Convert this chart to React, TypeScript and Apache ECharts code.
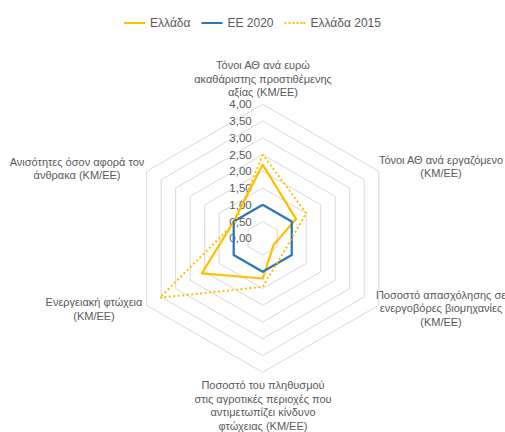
import React, { useEffect, useRef } from "react";
import * as echarts from "echarts";

// Indicators in the reference's clockwise order, starting at the top
const categories = [
  "Τόνοι ΑΘ ανά ευρώ\nακαθάριστης προστιθέμενης\nαξίας (ΚΜ/ΕΕ)",
  "Τόνοι ΑΘ ανά εργαζόμενο\n(ΚΜ/ΕΕ)",
  "Ποσοστό απασχόλησης σε\nενεργοβόρες βιομηχανίες\n(ΚΜ/ΕΕ)",
  "Ποσοστό του πληθυσμού\nστις αγροτικές περιοχές που\nαντιμετωπίζει κίνδυνο\nφτώχειας (ΚΜ/ΕΕ)",
  "Ενεργειακή φτώχεια\n(ΚΜ/ΕΕ)",
  "Ανισότητες όσον αφορά τον\nάνθρακα (ΚΜ/ΕΕ)",
];

const seriesNames = ["Ελλάδα", "ΕΕ 2020", "Ελλάδα 2015"];
const greece = [2.2, 1.15, 0.38, 1.2, 2.1, 1.0];
const eu2020 = [1, 1, 1, 1, 1, 1];
const greece2015 = [2.5, 1.5, 0.75, 1.45, 3.55, 0.95];

const axisMin = 0;
const axisMax = 4;
const tickCount = 8; // 0,00 … 4,00 step 0,50

// label anchor points (layout only)
const namePos: [number, number][] = [
  [263, 78.5],
  [441, 166.7],
  [441, 308.3],
  [263, 405.5],
  [94, 309],
  [77, 168.3],
];

const FONT = "Liberation Sans, Arial, sans-serif";
const TEXT = "#595959";

// ECharts radar places indicators counter-clockwise: reorder
const order = [0, 5, 4, 3, 2, 1];
const reorder = (arr: number[]) => order.map((i) => arr[i]);

export default function App() {
  const ref = useRef<HTMLDivElement>(null);
  useEffect(() => {
    document.body.style.margin = "0";
    const chart = echarts.init(ref.current!, null, { renderer: "svg" });
    const dotIcon =
      "path://M0 0h2v2h-2z M4 0h2v2h-2z M8 0h2v2h-2z M12 0h2v2h-2z M16 0h2v2h-2z M19 0h2v2h-2z";
    chart.setOption({
      animation: false,
      backgroundColor: "#fff",
      textStyle: { fontFamily: FONT },
      legend: {
        top: 12,
        left: "center",
        itemWidth: 21,
        itemHeight: 2,
        itemGap: 11,
        textStyle: { color: TEXT, fontSize: 12, fontFamily: FONT },
        data: [
          { name: seriesNames[0], icon: "rect" },
          { name: seriesNames[1], icon: "rect" },
          { name: seriesNames[2], icon: dotIcon },
        ],
      },
      radar: {
        center: [262.7, 238.3],
        radius: 134,
        startAngle: 90,
        shape: "polygon",
        splitNumber: tickCount,
        axisName: { show: false },
        splitLine: { lineStyle: { color: "#d9d9d9", width: 1 } },
        splitArea: { show: false },
        axisLine: { show: false },
        axisTick: { show: false },
        axisLabel: { show: false },
        indicator: order.map((i, k) => ({
          name: categories[i],
          min: axisMin,
          max: axisMax,
          ...(k === 0
            ? {
                axisLabel: {
                  show: true,
                  color: TEXT,
                  fontSize: 11.5,
                  fontFamily: FONT,
                  margin: 11,
                  formatter: (v: number) => v.toFixed(2).replace(".", ","),
                },
              }
            : {}),
        })),
      },
      series: [
        {
          type: "radar",
          symbol: "none",
          data: [
            {
              name: seriesNames[0],
              value: reorder(greece),
              itemStyle: { color: "#FFC000" },
              lineStyle: { color: "#FFC000", width: 2.25 },
            },
            {
              name: seriesNames[1],
              value: reorder(eu2020),
              itemStyle: { color: "#2E75B6" },
              lineStyle: { color: "#2E75B6", width: 2.25 },
            },
            {
              name: seriesNames[2],
              value: reorder(greece2015),
              itemStyle: { color: "#FFC000" },
              lineStyle: { color: "#FFC000", width: 2, type: [2, 2.5] },
            },
          ],
        },
      ],
      graphic: categories.map((c, i) => ({
        type: "text",
        x: namePos[i][0],
        y: namePos[i][1],
        style: {
          text: c,
          fill: TEXT,
          font: `11px ${FONT}`,
          align: "center",
          verticalAlign: "middle",
          lineHeight: 13.5,
        },
      })),
    });
    return () => chart.dispose();
  }, []);
  return <div ref={ref} style={{ width: 505, height: 432 }} />;
}
